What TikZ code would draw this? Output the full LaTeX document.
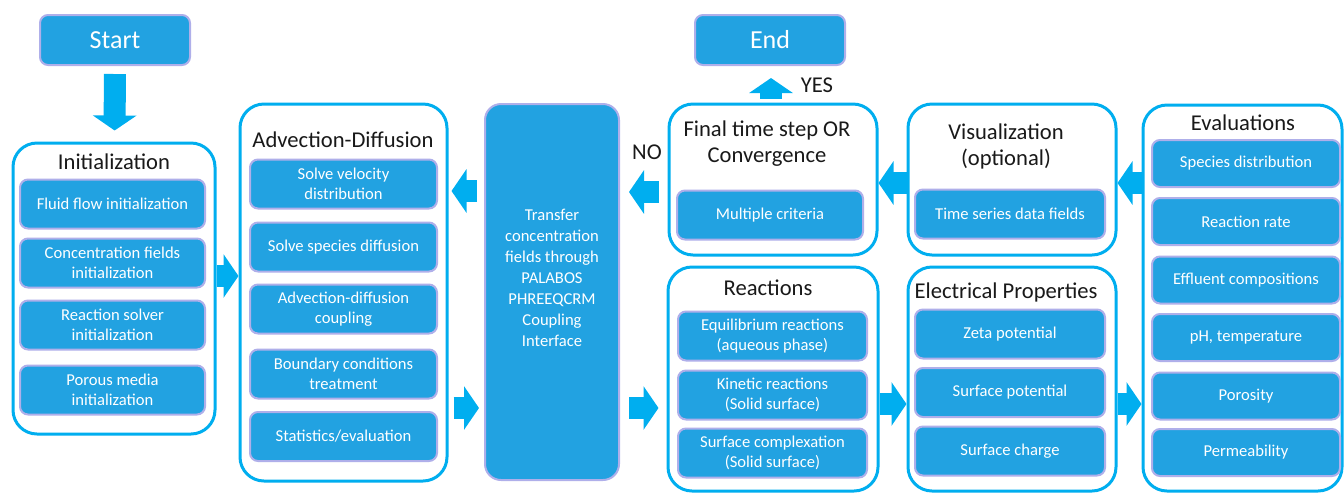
\documentclass[tikz,border=0pt]{standalone}
\usepackage{fontspec}
\setmainfont{Carlito}
\usetikzlibrary{arrows.meta}
\definecolor{boxblue}{RGB}{34,162,225}
\definecolor{lineblue}{RGB}{0,174,239}
\definecolor{glow}{RGB}{140,140,225}
\begin{document}
\begin{tikzpicture}[x=0.5pt,y=-0.5pt]
		\tikzstyle{group}=[draw=lineblue,line width=1.5pt,rounded corners=12pt,fill=white]
		\tikzstyle{task}=[fill=boxblue,draw=glow!70,line width=1pt,rounded corners=4pt,text=white,align=center,minimum height=24.5pt,inner sep=1pt,font=\fontsize{8.3}{10}\selectfont]
		\tikzstyle{head}=[align=center,text=black!90,font=\fontsize{11.3}{13}\selectfont]
		\tikzstyle{flow}=[draw=lineblue,line width=11pt,-{Triangle[width=21.5pt,length=7.5pt]}]
		\useasboundingbox (0,0) rectangle (1344,494);
		% start / end
		\node[task,minimum width=75pt,minimum height=25pt,font=\fontsize{13}{15}\selectfont] (g_start) at (115,40) {Start};
		\node[task,minimum width=75pt,minimum height=25pt,font=\fontsize{13}{15}\selectfont] (g_end) at (770,40) {End};
		% groups
		\node[group,minimum width=101pt,minimum height=145.5pt] (g_init) at (114,288.5) {};
		\node[group,minimum width=103.5pt,minimum height=188.5pt] (g_adv) at (343.5,292.5) {};
		\node[task,minimum width=67pt,minimum height=188pt,rounded corners=8pt] (g_trans) at (552,292) {};
		\node[group,minimum width=104pt,minimum height=75.5pt] (g_final) at (773,179.5) {};
		\node[group,minimum width=104pt,minimum height=75.5pt] (g_vis) at (1012,179.5) {};
		\node[group,minimum width=105pt,minimum height=112pt] (g_react) at (773,379) {};
		\node[group,minimum width=104pt,minimum height=112pt] (g_elec) at (1012,379) {};
		\node[group,minimum width=99.5pt,minimum height=193pt] (g_eval) at (1242.5,298) {};
		% titles
		\node[head] (t_init) at (114,162) {Initialization};
		\node[head] (t_adv) at (343,140) {Advection-Diffusion};
		\node[align=center,text=white,font=\fontsize{8.3}{10.5}\selectfont] (t_trans) at (552,278) {Transfer\\concentration\\fields through\\PALABOS\\PHREEQCRM\\Coupling\\Interface};
		\node[head] (t_final) at (767,144) {Final time step OR\\Convergence};
		\node[head] (t_vis) at (1006,146) {Visualization\\(optional)};
		\node[head] (t_react) at (768,288) {Reactions};
		\node[head] (t_elec) at (1006,292) {Electrical Properties};
		\node[head] (t_eval) at (1243,123) {Evaluations};
		% items
		\node[task,minimum width=92.5pt] (init_1) at (112.5,204) {Fluid flow initialization};
		\node[task,minimum width=92.5pt] (init_2) at (112.5,263) {Concentration fields\\initialization};
		\node[task,minimum width=92.5pt] (init_3) at (112.5,325) {Reaction solver\\initialization};
		\node[task,minimum width=92.5pt] (init_4) at (112.5,390) {Porous media\\initialization};
		\node[task,minimum width=93.5pt] (adv_1) at (343.5,184) {Solve velocity\\distribution};
		\node[task,minimum width=93.5pt] (adv_2) at (343.5,247) {Solve species diffusion};
		\node[task,minimum width=93.5pt] (adv_3) at (343.5,309) {Advection-diffusion\\coupling};
		\node[task,minimum width=93.5pt] (adv_4) at (343.5,374) {Boundary conditions\\treatment};
		\node[task,minimum width=93.5pt] (adv_5) at (343.5,436.5) {Statistics/evaluation};
		\node[task,minimum width=93pt] (final_1) at (770,215) {Multiple criteria};
		\node[task,minimum width=95pt] (vis_1) at (1010,214) {Time series data fields};
		\node[task,minimum width=94.5pt] (react_1) at (772.5,336) {Equilibrium reactions\\(aqueous phase)};
		\node[task,minimum width=94.5pt] (react_2) at (772.5,395) {Kinetic reactions\\(Solid surface)};
		\node[task,minimum width=94.5pt] (react_3) at (772.5,453) {Surface complexation\\(Solid surface)};
		\node[task,minimum width=95pt] (elec_1) at (1010,334) {Zeta potential};
		\node[task,minimum width=95pt] (elec_2) at (1010,392.5) {Surface potential};
		\node[task,minimum width=95pt] (elec_3) at (1010,451) {Surface charge};
		\node[task,minimum width=94pt,minimum height=23.5pt] (eval_1) at (1246,163.5) {Species distribution};
		\node[task,minimum width=94pt,minimum height=23.5pt] (eval_2) at (1246,221.5) {Reaction rate};
		\node[task,minimum width=94pt,minimum height=23.5pt] (eval_3) at (1246,280) {Effluent compositions};
		\node[task,minimum width=94pt,minimum height=23.5pt] (eval_4) at (1246,337.5) {pH, temperature};
		\node[task,minimum width=94pt,minimum height=23.5pt] (eval_5) at (1246,396) {Porosity};
		\node[task,minimum width=94pt,minimum height=23.5pt] (eval_6) at (1246,452.5) {Permeability};
		% labels
		\node[head] (l_no) at (647,152) {NO};
		\node[head] (l_yes) at (817,85) {YES};
		% arrows
		\draw[flow,shorten <=4pt,shorten >=5.5pt] (g_start) -- (g_init);
		\draw[flow] (g_init.east |- 0,276) -- (g_adv.west |- 0,276);
		\draw[flow,shorten <=3.5pt,shorten >=1.5pt] (g_trans.west |- 0,191) -- (g_adv.east |- 0,191);
		\draw[flow,shorten <=2.5pt,shorten >=2.5pt] (g_adv.east |- 0,408) -- (g_trans.west |- 0,408);
		\draw[flow,shorten <=4.5pt,shorten >=4.5pt] (g_final.west |- 0,192) -- (g_trans.east |- 0,192);
		\draw[flow,shorten <=4.5pt,shorten >=4pt] (g_trans.east |- 0,408) -- (g_react.west |- 0,408);
		\draw[flow] (g_react.east |- 0,404) -- (g_elec.west |- 0,404);
		\draw[flow] (g_elec.east |- 0,404) -- (g_eval.west |- 0,404);
		\draw[flow] (g_eval.west |- 0,183) -- (g_vis.east |- 0,183);
		\draw[flow] (g_vis.west |- 0,183) -- (g_final.east |- 0,183);
		\draw[flow,shorten <=2pt,shorten >=6pt] (g_final.north -| 771,0) -- (g_end.south -| 771,0);
	\end{tikzpicture}
\end{document}
